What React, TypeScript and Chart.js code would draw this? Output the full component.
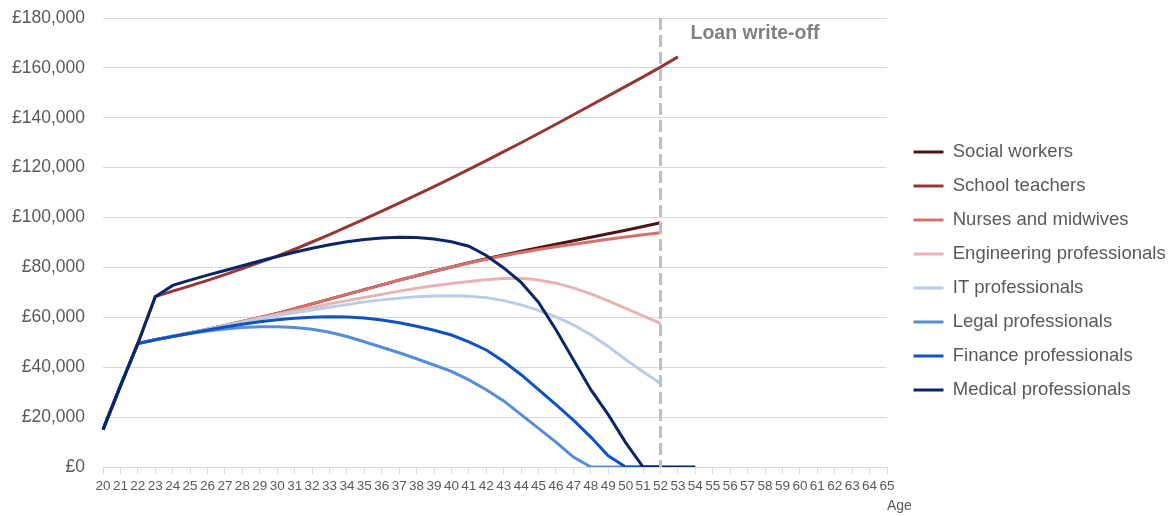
import { useEffect, useRef } from 'react';
import { Chart, registerables } from 'chart.js';

Chart.register(...registerables);

// ---- Data ----
const AGES = [
  '20', '21', '22', '23', '24', '25', '26', '27', '28', '29',
  '30', '31', '32', '33', '34', '35', '36', '37', '38', '39',
  '40', '41', '42', '43', '44', '45', '46', '47', '48', '49',
  '50', '51', '52', '53', '54', '55', '56', '57', '58', '59',
  '60', '61', '62', '63', '64', '65',
];

const WRITE_OFF_AGE = '52';
const WRITE_OFF_LABEL = 'Loan write-off';
const X_TITLE = 'Age';

const SERIES_NAMES = [
  'Social workers',
  'School teachers',
  'Nurses and midwives',
  'Engineering professionals',
  'IT professionals',
  'Legal professionals',
  'Finance professionals',
  'Medical professionals',
];

// ages 20..52
const SOCIAL_WORKERS = [
  15000, 32500, 49500, 51000, 52400, 53800, 55200, 56700, 58300, 59900,
  61600, 63500, 65400, 67300, 69200, 71100, 73000, 74900, 76700, 78500,
  80200, 81900, 83500, 85000, 86500, 87900, 89300, 90700, 92100, 93500,
  94900, 96400, 97900,
];
// ages 20..53
const SCHOOL_TEACHERS = [
  15000, 32500, 49500, 68300, 70500, 72600, 74800, 77100, 79500, 82000,
  84500, 87300, 90200, 93200, 96300, 99400, 102600, 105800, 109100, 112400,
  115800, 119300, 122800, 126400, 130000, 133700, 137400, 141200, 145000, 148800,
  152600, 156400, 160300, 164400,
];
// ages 20..52
const NURSES = [
  15000, 32500, 49500, 51000, 52400, 53800, 55200, 56700, 58300, 59900,
  61600, 63500, 65400, 67300, 69200, 71100, 73000, 74900, 76700, 78500,
  80200, 81800, 83300, 84700, 86000, 87200, 88300, 89300, 90300, 91300,
  92200, 93100, 93900,
];
const ENGINEERING = [
  15000, 32500, 49500, 51000, 52400, 53800, 55200, 56700, 58200, 59700,
  61100, 62600, 64000, 65400, 66700, 68000, 69200, 70500, 71700, 72700,
  73600, 74400, 75100, 75600, 75700, 75000, 73700, 71800, 69400, 66600,
  63600, 60600, 57600,
];
const IT = [
  15000, 32500, 49500, 51000, 52400, 53800, 55100, 56500, 57900, 59300,
  60600, 61800, 62900, 64000, 65100, 66200, 67000, 67700, 68300, 68600,
  68700, 68500, 67900, 66700, 65000, 62800, 60200, 57000, 53000, 48300,
  43100, 38200, 33500,
];
const LEGAL = [
  15000, 32500, 49500, 51000, 52300, 53500, 54500, 55300, 55900, 56200,
  56200, 55900, 55200, 54000, 52300, 50200, 48000, 45800, 43400, 40900,
  38300, 34900, 31000, 26500, 21000, 15500, 10000, 4000, 0, 0,
  0, 0, 0,
];
const FINANCE = [
  15000, 32500, 49500, 51000, 52300, 53600, 54900, 56100, 57200, 58200,
  59000, 59600, 60000, 60200, 60100, 59700, 58900, 57800, 56400, 54800,
  52900, 50200, 46900, 42300, 37000, 31000, 25000, 18800, 12000, 4500,
  0, 0, 0,
];
// ages 20..54
const MEDICAL = [
  15000, 32500, 49500, 68300, 72800, 74900, 76900, 78800, 80700, 82600,
  84400, 86100, 87700, 89100, 90300, 91200, 91800, 92100, 92000, 91400,
  90300, 88500, 84800, 79800, 74000, 66000, 55000, 43000, 31000, 21000,
  9800, 0, 0, 0, 0,
];

const SERIES_VALUES = [
  SOCIAL_WORKERS, SCHOOL_TEACHERS, NURSES, ENGINEERING, IT, LEGAL, FINANCE, MEDICAL,
];

const SERIES_COLORS = [
  '#4a1515', '#953735', '#d6706d', '#e6b4b3', '#b9cde5', '#558ed5', '#1152c2', '#0b2566',
];

const Y_MIN = 0;
const Y_MAX = 180000;
const Y_STEP = 20000;

// ---- Style ----
const FONT = '"Liberation Sans", Arial, sans-serif';
const TEXT_COLOR = '#595959';
const GRID_COLOR = '#d9d9d9';
const LEGEND_WIDTH = 287;
const LEGEND_SHIFT_X = 11;
const LEGEND_SHIFT_Y = 4;

const overlayPlugin = {
  id: 'overlay',
  beforeInit(chart: any) {
    const legend = chart.legend;
    if (legend) {
      const fit = legend.fit;
      legend.fit = function (this: any) {
        fit.call(this);
        this.width = LEGEND_WIDTH;
      };
    }
  },
  afterLayout(chart: any) {
    if (chart.legend) {
      chart.legend.left += LEGEND_SHIFT_X;
      chart.legend.top += LEGEND_SHIFT_Y;
      chart.legend.bottom += LEGEND_SHIFT_Y;
    }
  },
  afterDatasetsDraw(chart: any) {
    const ctx = chart.ctx;
    const xs = chart.scales.x;
    const { top, bottom } = chart.chartArea;
    const px = xs.getPixelForValue(AGES.indexOf(WRITE_OFF_AGE));
    ctx.save();
    ctx.strokeStyle = '#bfbfbf';
    ctx.lineWidth = 3;
    ctx.setLineDash([12, 5]);
    ctx.beginPath();
    ctx.moveTo(px, top);
    ctx.lineTo(px, bottom);
    ctx.stroke();
    ctx.setLineDash([]);
    ctx.font = 'bold 19.5px ' + FONT;
    ctx.fillStyle = '#808080';
    ctx.textAlign = 'left';
    ctx.textBaseline = 'alphabetic';
    ctx.fillText(WRITE_OFF_LABEL, px + 30, top + 21);
    ctx.restore();
  },
  afterDraw(chart: any) {
    const ctx = chart.ctx;
    const xs = chart.scales.x;
    ctx.save();
    ctx.font = '14px ' + FONT;
    ctx.fillStyle = TEXT_COLOR;
    ctx.textAlign = 'left';
    ctx.textBaseline = 'alphabetic';
    ctx.fillText(X_TITLE, chart.chartArea.right, xs.bottom - 6);
    ctx.restore();
  },
};

export default function App() {
  const canvasRef = useRef<HTMLCanvasElement | null>(null);

  useEffect(() => {
    document.body.style.margin = '0';
    const canvas = canvasRef.current;
    if (!canvas) return;

    const datasets = SERIES_NAMES.map((name, i) => ({
      label: name,
      data: SERIES_VALUES[i],
      borderColor: SERIES_COLORS[i],
      backgroundColor: SERIES_COLORS[i],
      borderWidth: 3,
      pointRadius: 0,
      pointHoverRadius: 0,
      tension: 0,
      fill: false,
    })).reverse(); // later series drawn on top, as in the original

    const chart = new Chart(canvas, {
      type: 'line',
      data: { labels: AGES, datasets },
      options: {
        responsive: false,
        maintainAspectRatio: false,
        animation: false,
        layout: { padding: { top: 18, right: 0, bottom: 0, left: 0 } },
        plugins: {
          tooltip: { enabled: false },
          legend: {
            position: 'right',
            align: 'center',
            reverse: true,
            labels: {
              usePointStyle: true,
              pointStyle: 'line',
              pointStyleWidth: 30,
              padding: 15.5,
              color: TEXT_COLOR,
              font: { family: FONT, size: 18.5 },
            },
          },
        },
        scales: {
          x: {
            type: 'category',
            offset: false,
            grid: {
              display: true,
              drawOnChartArea: false,
              drawTicks: true,
              tickLength: 7,
              color: GRID_COLOR,
            },
            border: { display: true, color: GRID_COLOR, width: 1 },
            ticks: {
              autoSkip: false,
              maxRotation: 0,
              minRotation: 0,
              padding: 4,
              color: TEXT_COLOR,
              font: { family: FONT, size: 13.5 },
            },
            afterFit: (s: any) => {
              s.height = 49;
            },
          },
          y: {
            min: Y_MIN,
            max: Y_MAX,
            grid: { color: GRID_COLOR, drawTicks: false, lineWidth: 1 },
            border: { display: false },
            ticks: {
              stepSize: Y_STEP,
              padding: 18,
              color: TEXT_COLOR,
              font: { family: FONT, size: 17.5 },
              callback: (v: any) => '£' + Number(v).toLocaleString('en-GB'),
            },
            afterFit: (s: any) => {
              s.width = 103;
              s.paddingTop = 0;
              s.paddingBottom = 0;
            },
          },
        },
      },
      plugins: [overlayPlugin],
    });

    return () => chart.destroy();
  }, []);

  return (
    <div style={{ width: 1174, height: 516 }}>
      <canvas ref={canvasRef} width={1174} height={516} style={{ display: 'block' }} />
    </div>
  );
}
